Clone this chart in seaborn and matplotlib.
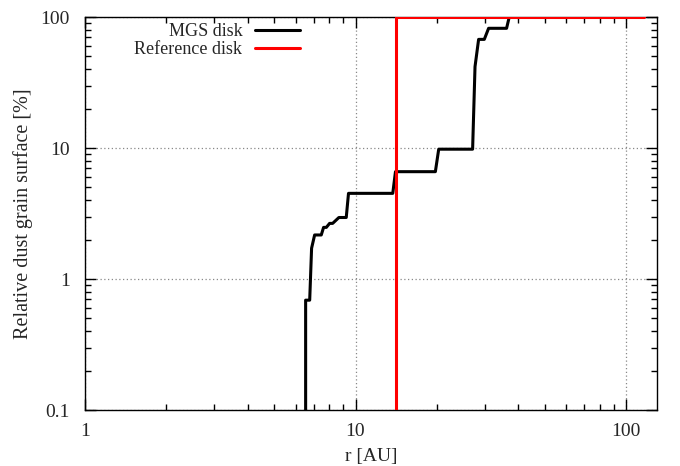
import numpy as np
import pandas as pd
import matplotlib
matplotlib.use("Agg")
import matplotlib.pyplot as plt
from matplotlib.ticker import LogLocator, FuncFormatter, NullFormatter
import seaborn as sns

# MGS disk cumulative curve
mgs_r = [6.54, 6.54, 6.77, 6.88, 7.06, 7.47, 7.62, 7.80, 8.02, 8.23, 8.68, 9.24, 9.42,
         13.73, 14.05, 19.73, 20.30, 27.09, 27.65, 28.51, 29.92, 31.04, 36.17, 37.0, 116.5]
mgs_s = [0.05, 0.69, 0.69, 1.72, 2.17, 2.17, 2.48, 2.48, 2.66, 2.66, 2.95, 2.95, 4.51,
         4.51, 6.6, 6.6, 9.8, 9.8, 41.8, 67.5, 67.5, 82.0, 82.0, 100.0, 100.0]

# Reference disk: step at ~14 AU
ref_r = [14.1, 14.1, 116.5]
ref_s = [0.05, 100.0, 100.0]

mgs = pd.DataFrame({"r": mgs_r, "s": mgs_s})
ref = pd.DataFrame({"r": ref_r, "s": ref_s})

sns.set_style("ticks")
plt.rcParams['font.family'] = ['Liberation Serif', 'DejaVu Serif']

fig = plt.figure(figsize=(6.8, 4.66), dpi=100)
ax = fig.add_axes([0.125, 0.12, 0.841, 0.8435])

sns.lineplot(data=mgs, x="r", y="s", ax=ax, color="black", lw=2.2,
             estimator=None, sort=False, label="MGS disk", zorder=3)
sns.lineplot(data=ref, x="r", y="s", ax=ax, color="#ff0000", lw=2.2,
             estimator=None, sort=False, label="Reference disk", zorder=4)

ax.set_xscale("log")
ax.set_yscale("log")
ax.set_xlim(1, 130)
ax.set_ylim(0.1, 100)

fmt = FuncFormatter(lambda v, p: "%g" % v)
ax.xaxis.set_major_locator(LogLocator(base=10))
ax.yaxis.set_major_locator(LogLocator(base=10))
ax.xaxis.set_major_formatter(fmt)
ax.yaxis.set_major_formatter(fmt)
ax.xaxis.set_minor_locator(LogLocator(base=10, subs=np.arange(2, 10)))
ax.yaxis.set_minor_locator(LogLocator(base=10, subs=np.arange(2, 10)))
ax.xaxis.set_minor_formatter(NullFormatter())
ax.yaxis.set_minor_formatter(NullFormatter())

ax.tick_params(which="both", direction="in", top=True, right=True, labelsize=14, color="black")
ax.tick_params(which="major", length=8, width=1)
ax.tick_params(which="minor", length=4, width=1)
ax.tick_params(axis="x", pad=9)
ax.tick_params(axis="y", pad=11)
for sp in ax.spines.values():
    sp.set_color("black")
    sp.set_linewidth(1.0)

ax.grid(True, which="major", linestyle=(0, (1, 2)), color="#888888", lw=0.9)

ax.set_xlabel("r [AU]", fontsize=14, labelpad=6)
ax.set_ylabel("Relative dust grain surface [%]", fontsize=14.5, labelpad=5)

leg = ax.legend(loc="upper left", bbox_to_anchor=(0.058, 1.025), markerfirst=False,
                frameon=False, fontsize=13, handlelength=2.5, handletextpad=0.7,
                labelspacing=0.05)
for t in leg.get_texts():
    t.set_ha("right")

fig.savefig("out.png", dpi=100)
